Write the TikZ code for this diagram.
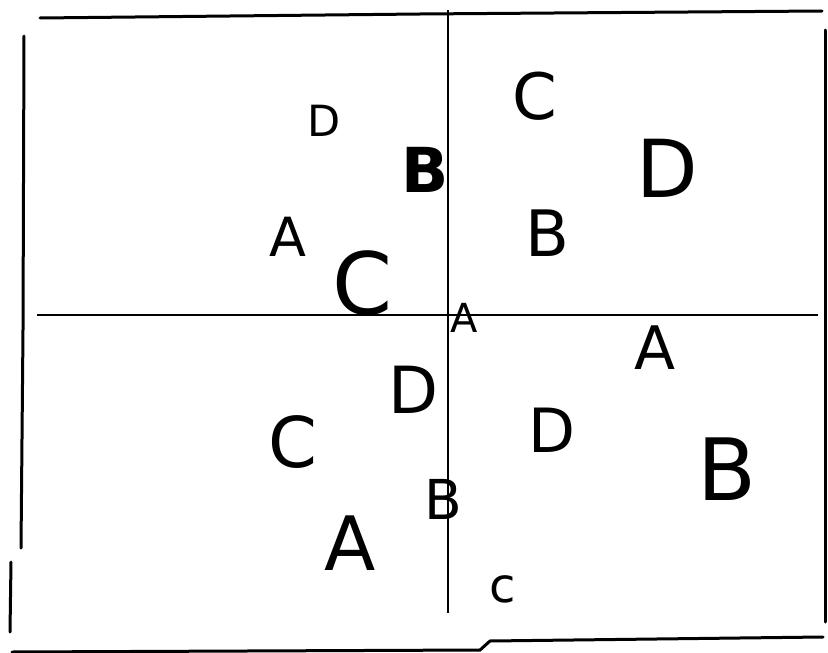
\documentclass[tikz,border=0pt]{standalone}
\usepackage{fontspec}
\setmainfont{DejaVu Sans}
\usetikzlibrary{positioning}
\tikzset{
  frameline/.style={line width=3pt, line cap=round},
  axisline/.style={line width=1.6pt},
  glyph/.style={inner sep=0pt, font=\fontsize{#1pt}{#1pt}\selectfont}
}

\begin{document}
\begin{tikzpicture}[x=1pt, y=-1pt]
  \useasboundingbox (0,0) rectangle (828,653);

  % rough hand drawn frame
  \draw[frameline] (40,18) -- (420,14) -- (822,11);
  \draw[frameline] (24,36) -- (23,330) -- (21,548);
  \draw[frameline] (11,562) -- (10,632);
  \draw[frameline] (825,30) -- (825,622);
  \draw[frameline] (12,652) -- (480,650) -- (490,641) -- (823,637);

  % cross
  \coordinate (vtop) at (448,10);
  \coordinate (vbot) at (448,613);
  \coordinate (hleft) at (37,315);
  \coordinate (hright) at (818,315);
  \draw[axisline] (vtop) -- (vbot);
  \draw[axisline] (hleft) -- (hright);

  % upper left
  \node[glyph=43] (dUL) at (324,121) {D};
  \node[glyph=62] (bUL) at (425,170) {\bfseries B};
  \node[glyph=54] (aUL) at (288,237) {A};
  \node[glyph=86] (cUL) at (363,283) {C};

  % upper right
  \node[glyph=64] (cUR) at (535,96) {C};
  \node[glyph=80] (dUR) at (667,168) {D};
  \node[glyph=64] (bUR) at (547,233) {B};

  % lower right
  \node[glyph=40] (aCentre) at (464,318) {A};
  \node[glyph=60] (aLR) at (655,348) {A};
  \node[glyph=61] (dLR) at (552,430) {D};
  \node[glyph=86] (bLR) at (727,469) {B};
  \node[glyph=48] (cLR) at (503,589) {c};

  % lower left
  \node[glyph=65] (dLL) at (414,390) {D};
  \node[glyph=70] (cLL) at (293,442) {C};
  \node[glyph=55] (bLL) at (443,499) {B};
  \node[glyph=75] (aLL) at (350,543) {A};
\end{tikzpicture}
\end{document}
